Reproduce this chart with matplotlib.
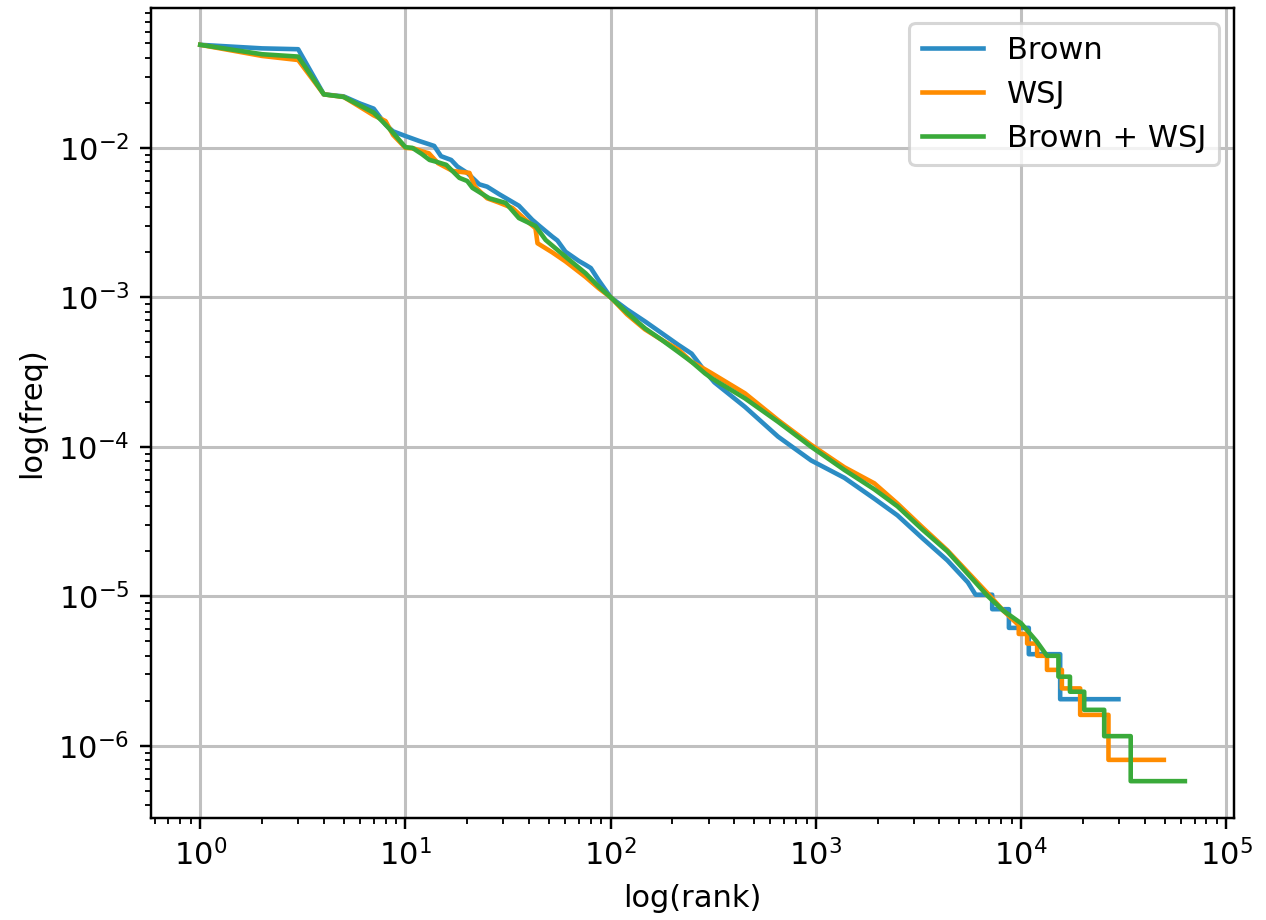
import matplotlib
matplotlib.use("Agg")
import matplotlib.pyplot as plt

# rank / relative frequency (Zipf plot)
brown_rank = [1, 2, 3, 4, 5, 6, 7, 8, 8.7, 10, 11.7, 13.8, 14.9, 16.7, 17.9, 20,
              22.9, 25, 28.6, 35.7, 41.5, 45, 51.9, 55, 60.2, 70, 75.4, 80, 87.4,
              100, 120, 147, 177, 214, 248, 288, 320, 451, 654, 949, 1377, 1926,
              2497, 3300, 4370, 5500, 6000, 7230, 7230, 8720, 8720, 10900, 10900,
              15500, 15500, 29800]
brown_freq = [0.0489, 0.0463, 0.0457, 0.0228, 0.0221, 0.0198, 0.0183, 0.0143,
              0.0129, 0.0120, 0.0111, 0.0103, 0.0088, 0.0083, 0.0075, 0.0068,
              0.0057, 0.0055, 0.0049, 0.0041, 0.0033, 0.0030, 0.00255, 0.0024,
              0.00202, 0.00175, 0.00165, 0.00157, 0.0013, 0.00100, 0.00083,
              0.00069, 0.000577, 0.00048, 0.00042, 0.00032, 0.00027, 0.000185,
              0.000117, 8.1e-5, 6.2e-5, 4.5e-5, 3.48e-5, 2.45e-5, 1.74e-5,
              1.24e-5, 1.025e-5, 1.025e-5, 8.2e-6, 8.2e-6, 6.15e-6, 6.15e-6,
              4.1e-6, 4.1e-6, 2.05e-6, 2.05e-6]

wsj_rank = [1, 2, 3, 4, 5, 6, 7, 8, 8.7, 10, 11, 12.6, 13, 14.4, 17, 20.5, 21.8,
            25, 28.6, 33.2, 38.5, 43, 44, 51.9, 60.2, 75.4, 87.4, 100, 120, 147,
            177, 214, 248, 288, 310, 451, 654, 949, 1377, 1926, 2497, 3300, 4370,
            6900, 8200, 9740, 9740, 10700, 10700, 11970, 11970, 13370, 13370,
            15800, 15800, 19400, 19400, 26650, 26650, 49600]
wsj_freq = [0.0489, 0.0412, 0.0387, 0.0228, 0.0219, 0.0188, 0.0165, 0.0151,
            0.0122, 0.0100, 0.0099, 0.0093, 0.0092, 0.0079, 0.0070, 0.0068,
            0.0055, 0.0046, 0.0043, 0.00396, 0.0033, 0.0029, 0.0023, 0.00200,
            0.00174, 0.00137, 0.00115, 0.00100, 0.00077, 0.00061, 0.00052,
            0.000446, 0.00037, 0.00033, 0.000311, 0.000228, 0.000151, 0.000103,
            7.3e-5, 5.7e-5, 4.17e-5, 2.9e-5, 2.03e-5, 1.04e-5, 8.0e-6, 6.4e-6,
            5.6e-6, 5.6e-6, 4.83e-6, 4.83e-6, 4.0e-6, 4.0e-6, 3.22e-6, 3.22e-6,
            2.42e-6, 2.42e-6, 1.61e-6, 1.61e-6, 8.05e-7, 8.05e-7]

both_rank = [1, 2, 3, 4, 5, 6, 7, 8, 8.7, 10, 10.8, 12, 13.1, 14, 15.8, 18.3, 20,
             21.2, 25.6, 30.8, 35.7, 43, 48.2, 60.2, 75.4, 87.4, 100, 120, 147,
             177, 214, 248, 288, 310, 451, 654, 949, 1377, 1926, 2497, 3300, 4370,
             6900, 8200, 10000, 11900, 13370, 15200, 15200, 17300, 17300, 20300,
             20300, 25400, 25400, 34200, 34200, 62800]
both_freq = [0.0489, 0.0423, 0.0408, 0.0228, 0.0219, 0.0192, 0.0172, 0.0143,
             0.0126, 0.0101, 0.0100, 0.0091, 0.0083, 0.0081, 0.0077, 0.0063,
             0.0060, 0.0054, 0.0046, 0.00428, 0.00339, 0.0030, 0.00242, 0.00187,
             0.00145, 0.00118, 0.00100, 0.00079, 0.00062, 0.00052, 0.00043,
             0.00037, 0.00031, 0.000288, 0.000211, 0.000147, 0.000100, 7.0e-5,
             5.2e-5, 4.0e-5, 2.8e-5, 2.0e-5, 1.0e-5, 8.0e-6, 6.6e-6, 5.0e-6,
             4.0e-6, 4.0e-6, 2.9e-6, 2.9e-6, 2.3e-6, 2.3e-6, 1.74e-6, 1.74e-6,
             1.16e-6, 1.16e-6, 5.8e-7, 5.8e-7]

COLORS = {"Brown": "#2b8cc4", "WSJ": "#ff8c00", "Brown + WSJ": "#3aaa3a"}

DPI = 220
fig = plt.figure(figsize=(1266 / DPI, 920 / DPI), dpi=DPI)
ax = fig.add_axes([0.1193, 0.1109, 0.8555, 0.8804])

ax.loglog(brown_rank, brown_freq, color=COLORS["Brown"], label="Brown")
ax.loglog(wsj_rank, wsj_freq, color=COLORS["WSJ"], label="WSJ")
ax.loglog(both_rank, both_freq, color=COLORS["Brown + WSJ"], label="Brown + WSJ")

ax.set_xlabel("log(rank)")
ax.set_ylabel("log(freq)")
ax.grid(True, color="#c0c0c0", linewidth=1.0)
ax.legend(loc="upper right")

fig.savefig("out.png", dpi=DPI)
